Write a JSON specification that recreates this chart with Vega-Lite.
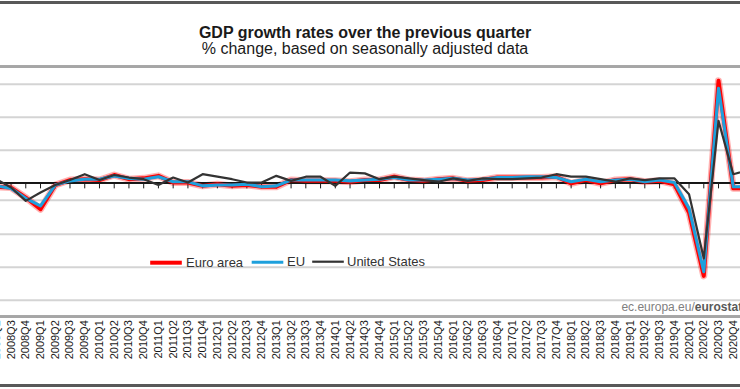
{
  "$schema": "https://vega.github.io/schema/vega-lite/v6.json",
  "width": 740,
  "height": 250,
  "autosize": {"type": "none"},
  "padding": {"left": 0, "right": 0, "top": 66.7, "bottom": 72.3},
  "background": "white",
  "title": {
    "text": "GDP growth rates over the previous quarter",
    "subtitle": "% change, based on seasonally adjusted data",
    "anchor": "middle",
    "frame": "group",
    "font": "Liberation Sans",
    "fontSize": 16,
    "fontWeight": "bold",
    "color": "#1a1a1a",
    "subtitleFont": "Liberation Sans",
    "subtitleFontSize": 16,
    "subtitleColor": "#1a1a1a",
    "subtitlePadding": 0,
    "offset": -56,
    "dx": -5
  },
  "config": {
    "view": {"stroke": null},
    "axisX": {
      "labelAngle": -90,
      "labelFont": "Liberation Sans",
      "labelFontSize": 11,
      "labelColor": "#1a1a1a",
      "ticks": false,
      "domain": false,
      "grid": false,
      "labelPadding": 3,
      "labelOverlap": false,
      "title": null
    },
    "axisY": {
      "labels": false,
      "ticks": false,
      "domain": false,
      "grid": true,
      "gridColor": "#d4d4d4",
      "gridWidth": 2,
      "title": null
    }
  },
  "data": {
    "values": [
      {"q":"2008Q2","s":"Euro area","v":-0.4},{"q":"2008Q3","s":"Euro area","v":-0.5},{"q":"2008Q4","s":"Euro area","v":-1.7},{"q":"2009Q1","s":"Euro area","v":-3.1},
      {"q":"2009Q2","s":"Euro area","v":-0.2},{"q":"2009Q3","s":"Euro area","v":0.4},{"q":"2009Q4","s":"Euro area","v":0.5},{"q":"2010Q1","s":"Euro area","v":0.4},
      {"q":"2010Q2","s":"Euro area","v":1.0},{"q":"2010Q3","s":"Euro area","v":0.5},{"q":"2010Q4","s":"Euro area","v":0.6},{"q":"2011Q1","s":"Euro area","v":0.9},
      {"q":"2011Q2","s":"Euro area","v":0.1},{"q":"2011Q3","s":"Euro area","v":0.1},{"q":"2011Q4","s":"Euro area","v":-0.3},{"q":"2012Q1","s":"Euro area","v":-0.1},
      {"q":"2012Q2","s":"Euro area","v":-0.3},{"q":"2012Q3","s":"Euro area","v":-0.2},{"q":"2012Q4","s":"Euro area","v":-0.4},{"q":"2013Q1","s":"Euro area","v":-0.4},
      {"q":"2013Q2","s":"Euro area","v":0.4},{"q":"2013Q3","s":"Euro area","v":0.3},{"q":"2013Q4","s":"Euro area","v":0.3},{"q":"2014Q1","s":"Euro area","v":0.3},
      {"q":"2014Q2","s":"Euro area","v":0.2},{"q":"2014Q3","s":"Euro area","v":0.4},{"q":"2014Q4","s":"Euro area","v":0.4},{"q":"2015Q1","s":"Euro area","v":0.8},
      {"q":"2015Q2","s":"Euro area","v":0.4},{"q":"2015Q3","s":"Euro area","v":0.3},{"q":"2015Q4","s":"Euro area","v":0.5},{"q":"2016Q1","s":"Euro area","v":0.6},
      {"q":"2016Q2","s":"Euro area","v":0.3},{"q":"2016Q3","s":"Euro area","v":0.4},{"q":"2016Q4","s":"Euro area","v":0.7},{"q":"2017Q1","s":"Euro area","v":0.7},
      {"q":"2017Q2","s":"Euro area","v":0.7},{"q":"2017Q3","s":"Euro area","v":0.7},{"q":"2017Q4","s":"Euro area","v":0.8},{"q":"2018Q1","s":"Euro area","v":0.0},
      {"q":"2018Q2","s":"Euro area","v":0.4},{"q":"2018Q3","s":"Euro area","v":0.0},{"q":"2018Q4","s":"Euro area","v":0.4},{"q":"2019Q1","s":"Euro area","v":0.5},
      {"q":"2019Q2","s":"Euro area","v":0.2},{"q":"2019Q3","s":"Euro area","v":0.3},{"q":"2019Q4","s":"Euro area","v":-0.1},{"q":"2020Q1","s":"Euro area","v":-3.5},
      {"q":"2020Q2","s":"Euro area","v":-11.1},{"q":"2020Q3","s":"Euro area","v":12.3},{"q":"2020Q4","s":"Euro area","v":-0.6},{"q":"2021Q1","s":"Euro area","v":-0.6},

      {"q":"2008Q2","s":"EU","v":-0.3},{"q":"2008Q3","s":"EU","v":-0.6},{"q":"2008Q4","s":"EU","v":-1.8},{"q":"2009Q1","s":"EU","v":-2.7},
      {"q":"2009Q2","s":"EU","v":-0.2},{"q":"2009Q3","s":"EU","v":0.3},{"q":"2009Q4","s":"EU","v":0.5},{"q":"2010Q1","s":"EU","v":0.5},
      {"q":"2010Q2","s":"EU","v":0.9},{"q":"2010Q3","s":"EU","v":0.6},{"q":"2010Q4","s":"EU","v":0.5},{"q":"2011Q1","s":"EU","v":0.8},
      {"q":"2011Q2","s":"EU","v":0.2},{"q":"2011Q3","s":"EU","v":0.2},{"q":"2011Q4","s":"EU","v":-0.3},{"q":"2012Q1","s":"EU","v":-0.2},
      {"q":"2012Q2","s":"EU","v":-0.2},{"q":"2012Q3","s":"EU","v":-0.1},{"q":"2012Q4","s":"EU","v":-0.4},{"q":"2013Q1","s":"EU","v":-0.3},
      {"q":"2013Q2","s":"EU","v":0.4},{"q":"2013Q3","s":"EU","v":0.4},{"q":"2013Q4","s":"EU","v":0.4},{"q":"2014Q1","s":"EU","v":0.4},
      {"q":"2014Q2","s":"EU","v":0.3},{"q":"2014Q3","s":"EU","v":0.4},{"q":"2014Q4","s":"EU","v":0.5},{"q":"2015Q1","s":"EU","v":0.7},
      {"q":"2015Q2","s":"EU","v":0.4},{"q":"2015Q3","s":"EU","v":0.4},{"q":"2015Q4","s":"EU","v":0.5},{"q":"2016Q1","s":"EU","v":0.6},
      {"q":"2016Q2","s":"EU","v":0.4},{"q":"2016Q3","s":"EU","v":0.5},{"q":"2016Q4","s":"EU","v":0.7},{"q":"2017Q1","s":"EU","v":0.7},
      {"q":"2017Q2","s":"EU","v":0.8},{"q":"2017Q3","s":"EU","v":0.8},{"q":"2017Q4","s":"EU","v":0.7},{"q":"2018Q1","s":"EU","v":0.2},
      {"q":"2018Q2","s":"EU","v":0.5},{"q":"2018Q3","s":"EU","v":0.2},{"q":"2018Q4","s":"EU","v":0.4},{"q":"2019Q1","s":"EU","v":0.5},
      {"q":"2019Q2","s":"EU","v":0.2},{"q":"2019Q3","s":"EU","v":0.4},{"q":"2019Q4","s":"EU","v":0.1},{"q":"2020Q1","s":"EU","v":-3.0},
      {"q":"2020Q2","s":"EU","v":-10.6},{"q":"2020Q3","s":"EU","v":11.4},{"q":"2020Q4","s":"EU","v":-0.4},{"q":"2021Q1","s":"EU","v":-0.4},

      {"q":"2008Q2","s":"United States","v":0.5},{"q":"2008Q3","s":"United States","v":-0.5},{"q":"2008Q4","s":"United States","v":-2.1},{"q":"2009Q1","s":"United States","v":-1.1},
      {"q":"2009Q2","s":"United States","v":-0.2},{"q":"2009Q3","s":"United States","v":0.4},{"q":"2009Q4","s":"United States","v":1.1},{"q":"2010Q1","s":"United States","v":0.4},
      {"q":"2010Q2","s":"United States","v":1.0},{"q":"2010Q3","s":"United States","v":0.7},{"q":"2010Q4","s":"United States","v":0.5},{"q":"2011Q1","s":"United States","v":-0.2},
      {"q":"2011Q2","s":"United States","v":0.7},{"q":"2011Q3","s":"United States","v":0.1},{"q":"2011Q4","s":"United States","v":1.1},{"q":"2012Q1","s":"United States","v":0.8},
      {"q":"2012Q2","s":"United States","v":0.5},{"q":"2012Q3","s":"United States","v":0.1},{"q":"2012Q4","s":"United States","v":0.1},{"q":"2013Q1","s":"United States","v":0.9},
      {"q":"2013Q2","s":"United States","v":0.3},{"q":"2013Q3","s":"United States","v":0.8},{"q":"2013Q4","s":"United States","v":0.8},{"q":"2014Q1","s":"United States","v":-0.3},
      {"q":"2014Q2","s":"United States","v":1.3},{"q":"2014Q3","s":"United States","v":1.2},{"q":"2014Q4","s":"United States","v":0.5},{"q":"2015Q1","s":"United States","v":0.8},
      {"q":"2015Q2","s":"United States","v":0.6},{"q":"2015Q3","s":"United States","v":0.4},{"q":"2015Q4","s":"United States","v":0.2},{"q":"2016Q1","s":"United States","v":0.6},
      {"q":"2016Q2","s":"United States","v":0.3},{"q":"2016Q3","s":"United States","v":0.6},{"q":"2016Q4","s":"United States","v":0.5},{"q":"2017Q1","s":"United States","v":0.5},
      {"q":"2017Q2","s":"United States","v":0.6},{"q":"2017Q3","s":"United States","v":0.7},{"q":"2017Q4","s":"United States","v":1.1},{"q":"2018Q1","s":"United States","v":0.8},
      {"q":"2018Q2","s":"United States","v":0.8},{"q":"2018Q3","s":"United States","v":0.5},{"q":"2018Q4","s":"United States","v":0.2},{"q":"2019Q1","s":"United States","v":0.6},
      {"q":"2019Q2","s":"United States","v":0.4},{"q":"2019Q3","s":"United States","v":0.6},{"q":"2019Q4","s":"United States","v":0.6},{"q":"2020Q1","s":"United States","v":-1.3},
      {"q":"2020Q2","s":"United States","v":-9.0},{"q":"2020Q3","s":"United States","v":7.5},{"q":"2020Q4","s":"United States","v":1.1},{"q":"2021Q1","s":"United States","v":1.6}
    ]
  },
  "layer": [
    {
      "transform": [{"filter": "datum.s === 'Euro area'"}],
      "mark": {"type": "line", "stroke": "#ff0000", "strokeWidth": 7, "opacity": 0.3, "strokeJoin": "round"},
      "encoding": {
        "x": {
          "field": "q",
          "type": "ordinal",
          "scale": {"type": "point", "padding": 0, "range": [-3.7, 748]}
        },
        "y": {
          "field": "v",
          "type": "quantitative",
          "scale": {"domain": [-16, 14], "nice": false, "zero": false},
          "axis": {"values": [-14, -12, -10, -8, -6, -4, -2, 2, 4, 6, 8, 10, 12]}
        }
      }
    },
    {
      "mark": {"type": "rule", "stroke": "#a6a6a6", "strokeWidth": 2},
      "encoding": {"y": {"datum": 14}}
    },
    {
      "mark": {"type": "rule", "stroke": "#a6a6a6", "strokeWidth": 2},
      "encoding": {"y": {"datum": -16}}
    },
    {
      "mark": {"type": "rule", "stroke": "#595959", "strokeWidth": 2.5},
      "encoding": {"y": {"datum": 21.7}}
    },
    {
      "mark": {"type": "rule", "stroke": "#595959", "strokeWidth": 2.5},
      "encoding": {"y": {"datum": -24.26}}
    },
    {
      "mark": {"type": "rule", "stroke": "#1a1a1a", "strokeWidth": 1},
      "encoding": {"y": {"datum": 0}}
    },
    {
      "transform": [{"filter": "datum.s === 'United States'"}],
      "mark": {"type": "rule", "stroke": "#1a1a1a", "strokeWidth": 1},
      "encoding": {
        "x": {"field": "q", "type": "ordinal"},
        "y": {"datum": 0},
        "y2": {"datum": -0.6}
      }
    },
    {
      "transform": [{"filter": "datum.s === 'Euro area'"}],
      "mark": {"type": "line", "strokeJoin": "round"},
      "encoding": {
        "x": {"field": "q", "type": "ordinal"},
        "y": {"field": "v", "type": "quantitative"},
        "color": {
          "field": "s",
          "type": "nominal",
          "scale": {"domain": ["Euro area", "EU", "United States"], "range": ["#ff0000", "#1ea0dc", "#333333"]},
          "legend": {
            "orient": "none",
            "legendX": 148,
            "legendY": 178,
            "direction": "horizontal",
            "gridAlign": "none",
            "title": null,
            "symbolType": "stroke",
            "symbolSize": 1000,
            "labelFont": "Liberation Sans",
            "labelFontSize": 13,
            "labelColor": "#333333",
            "labelOffset": 2,
            "columnPadding": 1
          }
        },
        "strokeWidth": {
          "field": "s",
          "type": "nominal",
          "scale": {"domain": ["Euro area", "EU", "United States"], "range": [4, 2.2, 1.2]},
          "legend": {
            "orient": "none",
            "legendX": 148,
            "legendY": 178,
            "direction": "horizontal",
            "gridAlign": "none",
            "title": null,
            "symbolType": "stroke",
            "symbolSize": 1000,
            "labelFont": "Liberation Sans",
            "labelFontSize": 13,
            "labelColor": "#333333",
            "labelOffset": 2,
            "columnPadding": 1
          }
        }
      }
    },
    {
      "transform": [{"filter": "datum.s === 'EU'"}],
      "mark": {"type": "line", "strokeJoin": "round"},
      "encoding": {
        "x": {"field": "q", "type": "ordinal"},
        "y": {"field": "v", "type": "quantitative"},
        "color": {"field": "s", "type": "nominal"},
        "strokeWidth": {"field": "s", "type": "nominal"}
      }
    },
    {
      "transform": [{"filter": "datum.s === 'United States'"}],
      "mark": {"type": "line", "strokeJoin": "round"},
      "encoding": {
        "x": {"field": "q", "type": "ordinal"},
        "y": {"field": "v", "type": "quantitative"},
        "color": {"field": "s", "type": "nominal"},
        "strokeWidth": {"field": "s", "type": "nominal"}
      }
    },
    {
      "data": {"values": [{"t": "ec.europa.eu/"}]},
      "mark": {"type": "text", "align": "right", "baseline": "middle", "font": "Liberation Sans", "fontSize": 12, "color": "#808080", "dx": -9},
      "encoding": {
        "x": {"datum": "2020Q2", "type": "ordinal"},
        "y": {"datum": -14.8},
        "text": {"field": "t"}
      }
    },
    {
      "data": {"values": [{"t": "eurostat"}]},
      "mark": {"type": "text", "align": "left", "baseline": "middle", "font": "Liberation Sans", "fontSize": 12, "fontWeight": "bold", "color": "#595959", "dx": -9},
      "encoding": {
        "x": {"datum": "2020Q2", "type": "ordinal"},
        "y": {"datum": -14.8},
        "text": {"field": "t"}
      }
    }
  ]
}
